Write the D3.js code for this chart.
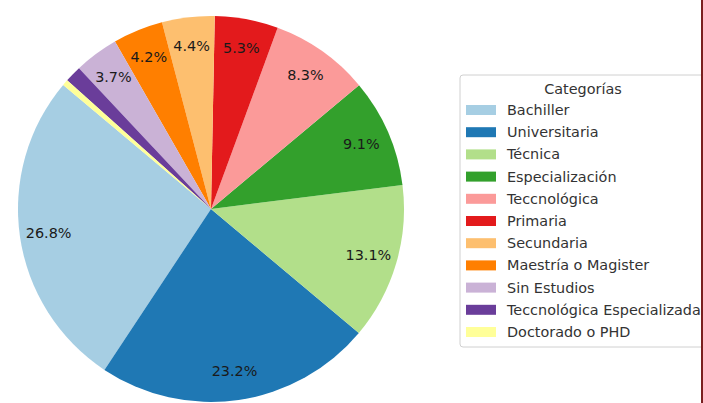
<!DOCTYPE html>
<html>
<head>
<meta charset="utf-8">
<style>
body { margin: 0; background: #fff; }
svg { display: block; font-family: "DejaVu Sans", sans-serif; }
</style>
</head>
<body>
<svg id="chart" width="703" height="403"></svg>
<script src="https://d3js.org/d3.v7.min.js"></script>
<script>
// Categories and shares (percent)
var categories = ["Bachiller", "Universitaria", "Técnica", "Especialización", "Teccnológica",
                  "Primaria", "Secundaria", "Maestría o Magister", "Sin Estudios",
                  "Teccnológica Especializada", "Doctorado o PHD"];
var shares = [26.8, 23.2, 13.1, 9.1, 8.3, 5.3, 4.4, 4.2, 3.7, 1.4, 0.5];
var colors = ["#a6cee3", "#1f78b4", "#b2df8a", "#33a02c", "#fb9a99", "#e31a1c",
              "#fdbf6f", "#ff7f00", "#cab2d6", "#6a3d9a", "#ffff99"];
var legendTitle = "Categorías";

var svg = d3.select("#chart");
var cx = 211, cy = 209, r = 193;

var data = categories.map(function(c, i) { return {name: c, value: shares[i], color: colors[i]}; });

// matplotlib style: start at 140deg, counterclockwise
var startRad = (90 - 140) * Math.PI / 180;
var pie = d3.pie()
  .value(function(d) { return d.value; })
  .sort(null)
  .startAngle(startRad)
  .endAngle(startRad - 2 * Math.PI);

var arc = d3.arc().innerRadius(0).outerRadius(r);
var labelArc = d3.arc().innerRadius(r * 0.85).outerRadius(r * 0.85);

var g = svg.append("g").attr("transform", "translate(" + cx + "," + cy + ")");

g.selectAll("path")
  .data(pie(data))
  .enter().append("path")
  .attr("d", arc)
  .attr("fill", function(d) { return d.data.color; });

g.selectAll("text")
  .data(pie(data).filter(function(d) { return d.data.value >= 2; }))
  .enter().append("text")
  .attr("transform", function(d) { return "translate(" + labelArc.centroid(d) + ")"; })
  .attr("text-anchor", "middle")
  .attr("dy", "0.35em")
  .style("font-size", "14.4px")
  .style("fill", "#1a1a1a")
  .text(function(d) { return d.data.value.toFixed(1) + "%"; });

// Legend
var lx = 460, ly = 75, rowH = 22.2;
var legend = svg.append("g");
legend.append("rect")
  .attr("x", lx).attr("y", ly)
  .attr("width", 260).attr("height", 272)
  .attr("rx", 3)
  .attr("fill", "#fff")
  .attr("stroke", "#d0d0d0");

legend.append("text")
  .attr("x", 583).attr("y", ly + 19)
  .attr("text-anchor", "middle")
  .style("font-size", "14.4px")
  .style("fill", "#333")
  .text(legendTitle);

var items = legend.selectAll("g.item")
  .data(data)
  .enter().append("g")
  .attr("class", "item")
  .attr("transform", function(d, i) { return "translate(0," + (ly + 35 + i * rowH) + ")"; });

items.append("rect")
  .attr("x", 466).attr("y", -5)
  .attr("width", 30).attr("height", 10)
  .attr("fill", function(d) { return d.color; });

items.append("text")
  .attr("x", 507).attr("dy", "0.35em")
  .style("font-size", "14.4px")
  .style("fill", "#333")
  .text(function(d) { return d.name; });

// right border line
svg.append("rect")
  .attr("x", 701).attr("y", 0)
  .attr("width", 2).attr("height", 403)
  .attr("fill", "#7a1f1f");
</script>
</body>
</html>
